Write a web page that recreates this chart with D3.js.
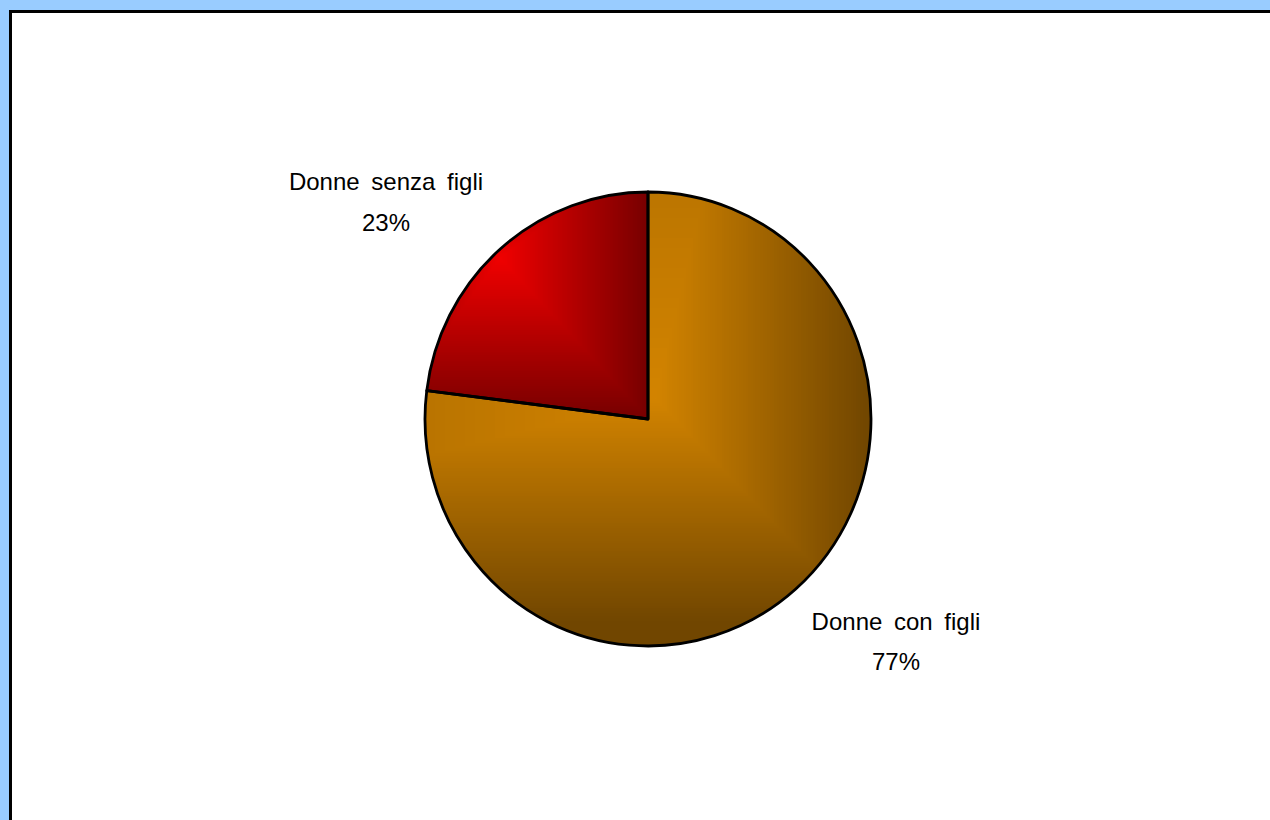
<!DOCTYPE html>
<html>
<head>
<meta charset="utf-8">
<script src="https://cdn.jsdelivr.net/npm/d3@7"></script>
<style>
  html, body { margin: 0; padding: 0; background: #99CCFF; }
  svg { display: block; }
</style>
</head>
<body>
<svg id="chart" width="1270" height="820"></svg>
<script>
// ---- data ----
const categories = ["Donne con figli", "Donne senza figli"];
const values = [77, 23];
const percentLabels = ["77%", "23%"];

// ---- layout / style ----
const W = 1270, H = 820;
const cx = 648, cy = 419, R = 225, sx = 223 / 225, sy = 227 / 225;
const colors = [
  { bright: "#D38400", dark: "#714600", bx: 655, by: 398, L: 900, R: 215, T: 900, B: 225 },
  { bright: "#F00000", dark: "#760000", bx: 500, by: 258, L: 120, R: 150, T: 110, B: 162 }
];
const labelPos = [
  { x: 896, y1: 630, y2: 670 },
  { x: 386, y1: 190, y2: 231 }
];

const svg = d3.select("#chart");
svg.append("rect").attr("width", W).attr("height", H).attr("fill", "#99CCFF");
svg.append("rect").attr("x", 10.5).attr("y", 11.5).attr("width", 1400).attr("height", 1000)
  .attr("fill", "#FFFFFF").attr("stroke", "#000").attr("stroke-width", 3);

const pie = d3.pie().sort(null).value(d => d)(values);
const arc = d3.arc().innerRadius(0).outerRadius(R);
const pieTransform = `translate(${cx},${cy}) scale(${sx},${sy})`;

const defs = svg.append("defs");
pie.forEach((p, i) => {
  defs.append("clipPath").attr("id", "clip" + i)
    .append("path").attr("d", arc(p)).attr("transform", pieTransform);
});

pie.forEach((p, i) => {
  const c = colors[i];
  const interp = d3.interpolateRgb(c.bright, c.dark);
  const g = svg.append("g").attr("clip-path", `url(#clip${i})`);
  g.append("rect").attr("x", 0).attr("y", 0).attr("width", W).attr("height", H).attr("fill", c.dark);
  const N = 90;
  const steps = d3.range(N, -1, -1).map(k => k / N);
  g.selectAll("rect.step").data(steps).join("rect")
    .attr("class", "step")
    .attr("x", t => c.bx - t * c.L)
    .attr("y", t => c.by - t * c.T)
    .attr("width", t => Math.max(0.5, t * (c.L + c.R)))
    .attr("height", t => Math.max(0.5, t * (c.T + c.B)))
    .attr("fill", t => interp(t))
    .attr("shape-rendering", "crispEdges");
});

// outlines
svg.append("g").attr("transform", pieTransform)
  .selectAll("path").data(pie).join("path")
  .attr("d", arc)
  .attr("fill", "none")
  .attr("stroke", "#000")
  .attr("stroke-width", 2.8)
  .attr("stroke-linejoin", "round")
  .attr("vector-effect", "non-scaling-stroke");

// labels
const labels = svg.append("g")
  .attr("font-family", "'Liberation Sans', Arial, sans-serif")
  .attr("font-size", 24)
  .attr("fill", "#000")
  .attr("text-anchor", "middle");
pie.forEach((p, i) => {
  const lp = labelPos[i];
  labels.append("text").attr("x", lp.x).attr("y", lp.y1)
    .attr("word-spacing", 5).text(categories[i]);
  labels.append("text").attr("x", lp.x).attr("y", lp.y2).text(percentLabels[i]);
});
</script>
</body>
</html>
